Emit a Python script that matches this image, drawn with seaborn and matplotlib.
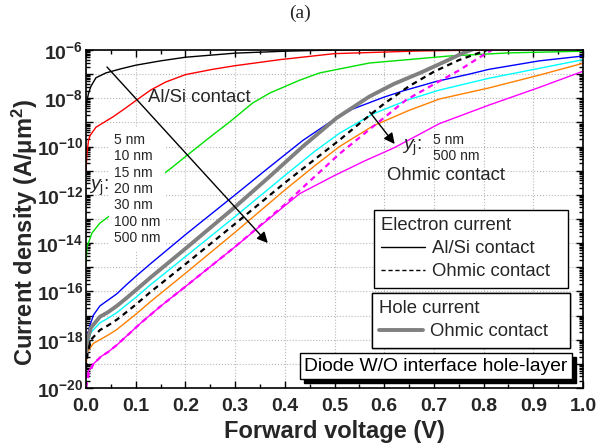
import numpy as np
import matplotlib
matplotlib.use('Agg')
import matplotlib.pyplot as plt
import seaborn as sns
from matplotlib.lines import Line2D
from matplotlib.patches import Rectangle
from matplotlib.ticker import LogLocator, NullFormatter, MultipleLocator

# ---------------- data (current given as log10 of A/um^2) ----------------
V_alsi_5 = [0, 0.002, 0.005, 0.01, 0.02, 0.04, 0.07, 0.1, 0.15, 0.2, 0.3, 0.4, 0.5, 0.7, 1.0]
E_alsi_5 = [-8.4, -8.1, -7.8, -7.5, -7.15, -6.95, -6.78, -6.63, -6.45, -6.3, -6.13, -6.05, -6.0, -5.95, -5.9]

V_alsi_10 = [0, 0.002, 0.005, 0.008, 0.02, 0.055, 0.08, 0.1, 0.13, 0.16, 0.2, 0.255, 0.3, 0.39, 0.5, 0.67, 0.8, 1.0]
E_alsi_10 = [-11.0, -10.3, -9.75, -9.55, -9.2, -8.76, -8.4, -8.1, -7.66, -7.33, -7.02, -6.8, -6.65, -6.4, -6.15, -6.04, -6.0, -5.95]

V_alsi_15 = [0, 0.002, 0.012, 0.028, 0.052, 0.1, 0.169, 0.209, 0.25, 0.289, 0.335, 0.37, 0.43, 0.47, 0.57, 0.73, 0.85, 1.0]
E_alsi_15 = [-14.85, -14.16, -13.58, -13.17, -12.8, -12.0, -10.93, -10.27, -9.6, -8.98, -8.2, -7.78, -7.25, -6.95, -6.54, -6.25, -6.12, -6.05]

V_alsi_20 = [0, 0.003, 0.008, 0.015, 0.028, 0.045, 0.062, 0.08, 0.1, 0.13, 0.2, 0.3, 0.369, 0.436, 0.49, 0.536, 0.6, 0.637, 0.705, 0.771, 0.811, 0.912, 1.0]
E_alsi_20 = [-18.3, -17.8, -17.4, -16.98, -16.6, -16.35, -16.1, -15.75, -15.38, -14.85, -13.65, -12.0, -10.85, -9.75, -9.0, -8.45, -7.95, -7.7, -7.3, -7.0, -6.8, -6.45, -6.25]

V_alsi_30 = [0, 0.003, 0.01, 0.028, 0.045, 0.062, 0.08, 0.1, 0.13, 0.2, 0.3, 0.4, 0.46, 0.51, 0.577, 0.65, 0.711, 0.811, 0.912, 1.0]
E_alsi_30 = [-18.8, -18.2, -17.7, -17.3, -17.1, -16.88, -16.58, -16.25, -15.72, -14.56, -12.9, -11.2, -10.2, -9.45, -8.65, -8.05, -7.66, -7.17, -6.76, -6.4]

V_alsi_100 = [0, 0.003, 0.015, 0.028, 0.045, 0.062, 0.08, 0.1, 0.13, 0.2, 0.3, 0.4, 0.46, 0.51, 0.577, 0.65, 0.711, 0.811, 0.912, 1.0]
E_alsi_100 = [-19.1, -18.5, -18.15, -18.0, -17.8, -17.58, -17.28, -16.95, -16.42, -15.25, -13.55, -11.8, -10.8, -10.0, -9.15, -8.5, -8.03, -7.57, -7.04, -6.55]

V_alsi_500 = [0, 0.005, 0.015, 0.03, 0.045, 0.062, 0.08, 0.108, 0.149, 0.2, 0.3, 0.4, 0.43, 0.5, 0.56, 0.62, 0.711, 0.811, 0.912, 1.0]
E_alsi_500 = [-19.55, -19.3, -19.0, -18.7, -18.5, -18.22, -17.88, -17.35, -16.63, -15.8, -14.15, -12.45, -11.95, -11.2, -10.6, -10.05, -9.05, -8.28, -7.55, -6.88]

V_ohm_5 = [0, 0.003, 0.01, 0.028, 0.045, 0.062, 0.08, 0.1, 0.13, 0.2, 0.3, 0.4, 0.51, 0.55, 0.6, 0.65, 0.7, 0.75, 0.8, 0.84]
E_ohm_5 = [-19.2, -18.6, -18.0, -17.6, -17.4, -17.17, -16.88, -16.55, -16.02, -14.87, -13.2, -11.5, -9.73, -9.05, -8.22, -7.5, -6.9, -6.42, -6.05, -5.8]

V_ohm_500 = [0, 0.005, 0.015, 0.03, 0.045, 0.062, 0.08, 0.108, 0.149, 0.2, 0.3, 0.4, 0.436, 0.51, 0.577, 0.644, 0.7, 0.75, 0.8, 0.83]
E_ohm_500 = [-20.0, -19.45, -19.0, -18.7, -18.5, -18.22, -17.88, -17.35, -16.63, -15.8, -14.15, -12.4, -11.7, -10.3, -9.18, -8.07, -7.42, -6.85, -6.2, -5.85]

V_hole = [0, 0.003, 0.01, 0.028, 0.045, 0.062, 0.08, 0.1, 0.13, 0.2, 0.3, 0.369, 0.436, 0.504, 0.57, 0.62, 0.671, 0.72, 0.757, 0.8]
E_hole = [-18.6, -18.0, -17.5, -17.05, -16.85, -16.6, -16.3, -15.95, -15.42, -14.23, -12.5, -11.25, -10.0, -8.82, -7.93, -7.4, -6.96, -6.5, -6.14, -5.8]

yj_labels = ['5 nm', '10 nm', '15 nm', '20 nm', '30 nm', '100 nm', '500 nm']
x_ticks = [0.0, 0.1, 0.2, 0.3, 0.4, 0.5, 0.6, 0.7, 0.8, 0.9, 1.0]
y_exps = [-6, -7, -8, -9, -10, -11, -12, -13, -14, -15, -16, -17, -18, -19, -20]

# ---------------- style ----------------
sns.set_theme(style='ticks')
plt.rcParams['font.family'] = ['Liberation Sans', 'DejaVu Sans']
plt.rcParams['mathtext.fontset'] = 'custom'
plt.rcParams['mathtext.rm'] = 'Liberation Sans'
plt.rcParams['mathtext.it'] = 'Liberation Sans:italic'
plt.rcParams['mathtext.bf'] = 'Liberation Sans:bold'

fig = plt.figure(figsize=(6, 4.48), dpi=100)
ax = fig.add_axes([86 / 600, 1 - 388 / 448, 497 / 600, 338 / 448])

thin = 1.0
dash = (0, (2.5, 2))
series = [
    (V_alsi_5, E_alsi_5, 'black', thin, '-'),
    (V_alsi_10, E_alsi_10, '#ff0000', thin, '-'),
    (V_alsi_15, E_alsi_15, '#00e000', thin, '-'),
    (V_alsi_20, E_alsi_20, '#0000ff', thin, '-'),
    (V_alsi_30, E_alsi_30, '#00ffff', thin, '-'),
    (V_alsi_100, E_alsi_100, '#ff8000', thin, '-'),
    (V_alsi_500, E_alsi_500, '#ff00ff', thin, '-'),
    (V_hole, E_hole, '#808080', 2.8, '-'),
    (V_ohm_5, E_ohm_5, 'black', 1.6, dash),
    (V_ohm_500, E_ohm_500, '#ff00ff', 1.6, dash),
]
for v, e, c, lw, ls in series:
    sns.lineplot(x=np.array(v), y=10.0 ** np.array(e), ax=ax, color=c, linewidth=lw,
                 linestyle=ls, estimator=None, sort=False, legend=False)

ax.set_yscale('log')
ax.set_xlim(0, 1.0)

ax.set_xticks(x_ticks, labels=[f'{t:.1f}' for t in x_ticks], fontweight='bold', fontsize=14)
ax.xaxis.set_minor_locator(MultipleLocator(0.05))
ylabs = [r'$\mathbf{10^{%d}}$' % e if e % 2 == 0 else '' for e in y_exps]
ax.set_yticks([10.0 ** e for e in y_exps], labels=ylabs, fontweight='bold', fontsize=14)
ax.yaxis.set_minor_locator(LogLocator(base=10, subs=np.arange(2, 10), numticks=200))
ax.yaxis.set_minor_formatter(NullFormatter())
ax.set_ylim(1e-20, 1e-6)

ax.tick_params(which='both', direction='in', top=True, right=True, color='black', width=1)
ax.tick_params(which='major', length=5)
ax.tick_params(which='minor', length=3)
ax.tick_params(axis='x', which='major', pad=7)
ax.tick_params(axis='y', which='major', pad=2)
for s in ax.spines.values():
    s.set_color('black')
    s.set_linewidth(1.2)
ax.grid(True, which='major', ls=':', color='#b8b8b8', lw=0.8)

ax.set_xlabel('Forward voltage (V)', fontsize=17, fontweight='bold')
ax.xaxis.set_label_coords(0.5, -0.095)
ax.set_ylabel(r'Current density (A/μm$^{\mathbf{2}}$)', fontsize=17, fontweight='bold')
ax.yaxis.set_label_coords(-0.092, 0.46)

# ---------------- annotations ----------------
def ly(p):
    return 10.0 ** (-6 - (p - 50) / 24.14)

def lx(p):
    return (p - 86) / 497.5

ax.text(lx(199), ly(97), 'Al/Si contact', fontsize=13.3, ha='center', va='center', zorder=5)
ax.text(lx(114), ly(133), '\n'.join(yj_labels), fontsize=10, ha='left', va='top',
        linespacing=1.21, zorder=6,
        bbox=dict(boxstyle='square,pad=0.35', fc='white', ec='none'))
ax.text(lx(89), ly(188), r'$y_{\rm j}$:', fontsize=14, ha='left', va='center', zorder=6)

ax.text(lx(412), ly(148), r'$y_{\rm j}$:', fontsize=14, ha='center', va='center', zorder=6)
ax.text(lx(433), ly(140), '5 nm', fontsize=10, ha='left', va='center', zorder=6)
ax.text(lx(433), ly(156), '500 nm', fontsize=10, ha='left', va='center', zorder=6)
ax.text(lx(446), ly(175), 'Ohmic contact', fontsize=13.3, ha='center', va='center', zorder=6)

arrow_kw = dict(arrowstyle='-|>', color='black', lw=1.0, mutation_scale=16, shrinkA=0, shrinkB=0)
ax.annotate('', xy=(lx(268), ly(243)), xytext=(lx(107), ly(67)), arrowprops=arrow_kw, zorder=8)
ax.annotate('', xy=(lx(395), ly(144)), xytext=(lx(370), ly(112)), arrowprops=arrow_kw, zorder=8)

# ---------------- legends ----------------
leg_kw = dict(fontsize=13.3, title_fontsize=13.3, alignment='left', frameon=True,
              fancybox=False, edgecolor='black', framealpha=1, handlelength=2.4,
              handletextpad=0.35, borderpad=0.4, labelspacing=0.32, borderaxespad=0,
              loc='upper left', mode='expand')
h1 = [Line2D([], [], color='black', lw=1.0),
      Line2D([], [], color='black', lw=1.0, ls=(0, (3, 2)))]
leg1 = ax.legend(h1, ['Al/Si contact', 'Ohmic contact'], title='Electron current',
                 bbox_to_anchor=(lx(374), 0.3, 0.39, (388 - 210) / 338 - 0.3), **leg_kw)
leg1.get_frame().set_linewidth(1.0)
ax.add_artist(leg1)
h2 = [Line2D([], [], color='#808080', lw=2.8)]
leg2 = ax.legend(h2, ['Ohmic contact'], title='Hole current',
                 bbox_to_anchor=(lx(372), 0.1, 0.398, (388 - 293) / 338 - 0.1), **leg_kw)
leg2.get_frame().set_linewidth(1.0)
ax.add_artist(leg2)

# box with black drop shadow
txt = 'Diode W/O interface hole-layer'
bx, by = (436 - 86) / 497, (388 - 366) / 338
box_text = ax.text(bx, by, txt, transform=ax.transAxes, fontsize=13.9, ha='center', va='center',
                   color='black', zorder=10,
                   bbox=dict(boxstyle='square,pad=0.25', fc='white', ec='black', lw=1))
fig.canvas.draw()
ext = box_text.get_bbox_patch().get_window_extent(fig.canvas.get_renderer())
ax.add_patch(Rectangle((ext.x0 + 4, ext.y0 - 4), ext.width, ext.height, transform=None,
                       fc='black', ec='black', clip_on=False, zorder=9))

fig.text(0.5, 1 - 13 / 448, '(a)', ha='center', va='center', family='Liberation Serif', fontsize=14)

fig.savefig('out.png', dpi=100)
